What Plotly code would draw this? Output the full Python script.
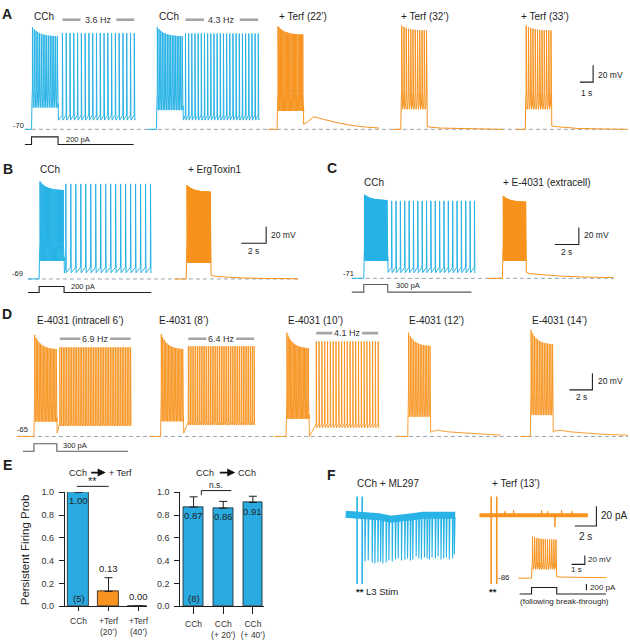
import numpy as np
import plotly.graph_objects as go

W, H = 630, 640
FONT = "Liberation Sans, Arial, Helvetica, sans-serif"

CYAN = "#28b3e6"
ORANGE = "#f7931e"
CYAN_BAR = "#29abe2"
ORANGE_BAR = "#f7931e"
DASH_GRAY = "#9aa3ad"
HZ_GRAY = "#a5a5a5"
INK = "#1e1e1e"
CMD_GRAY = "#5a5a5a"

# ======================= DATA =======================
# ---- Panel A : membrane potential (mV) vs time (s) ----
A_titles = ["CCh", "CCh", "+ Terf (22\u2019)", "+ Terf (32\u2019)", "+ Terf (33\u2019)"]
A_is_cch = [True, True, False, False, False]
A_onset_s = [2.38, 11.80, 20.90, 30.23, 39.62]
A_pre_s = [0.50, 0.68, 0.68, 0.60, 0.68]
A_step_s = 2.0
A_post_s = [5.80, 5.75, 5.70, 5.70, 5.70]
A_rest_mV = -70
A_step_spikes = [15, 16, 22, 12, 12]
A_step_peak_first = [52, 52, 53, 54, 54]
A_step_peak_last = [41, 41, 43, 48, 48]
A_step_trough = [-44, -47, -48, -46, -46]
A_pers_label = ["3.6 Hz", "4.3 Hz", None, None, None]
A_pers_spikes = [20, 24, 0, 0, 0]
A_pers_window = [(0.33, 5.75), (0.19, 5.68), None, None, None]
A_pers_peak = [45, 44.5, None, None, None]
A_pers_trough = [-59, -59, None, None, None]
A_pers_thresh = [-53, -53, None, None, None]
A_post_drop = [-59, -59, None, None, None]
A_after = [None, None,
           [(0, -64), (0.3, -61), (0.75, -55), (1.5, -58), (2.5, -62), (3.5, -65), (4.5, -67), (5.7, -68.5)],
           [(0, -67), (1.0, -68.5), (3.0, -69.5), (5.7, -70)],
           [(0, -66), (0.5, -67), (2.0, -69), (5.7, -70)]]
A_hz_mV = 61
A_cmd_pA = 200

# ---- Panel B ----
B_titles = ["CCh", "+ ErgToxin1"]
B_is_cch = [True, False]
B_onset_s = [3.14, 14.94]
B_pre_s = [0.90, 0.93]
B_step_s = 2.0
B_post_s = [7.0, 7.0]
B_rest_mV = -69
B_step_spikes = [26, 60]
B_step_peak_first = [47.5, 43]
B_step_peak_last = [37, 35]
B_step_trough = [-47.5, -49.8]
B_pers_spikes = [18, 0]
B_pers_window = [(0.14, 6.94), None]
B_pers_peak = [44.6, None]
B_pers_trough = [-61.6, None]
B_pers_thresh = [-55, None]
B_post_drop = [-62, None]
B_after = [None, [(0, -65), (0.5, -66), (2, -67.5), (4, -68.3), (7, -68.8)]]
B_cmd_pA = 200

# ---- Panel C ----
C_titles = ["CCh", "+ E-4031 (extracell)"]
C_is_cch = [True, False]
C_onset_s = [4.58, 16.17]
C_pre_s = [1.00, 1.17]
C_step_s = 2.0
C_post_s = [7.30, 7.25]
C_rest_mV = -71
C_step_spikes = [50, 50]
C_step_peak_first = [27.3, 25.8]
C_step_peak_last = [20.8, 18.8]
C_step_trough = [-50.5, -50.5]
C_pers_spikes = [20, 0]
C_pers_window = [(0.33, 7.25), None]
C_pers_peak = [20, None]
C_pers_trough = [-64.4, None]
C_pers_thresh = [-58, None]
C_post_drop = [-64, None]
C_after = [None, [(0, -64), (0.3, -65.5), (0.8, -66), (1.5, -67.5), (3, -68.5), (5, -69.5), (7.25, -70)]]
C_cmd_pA = 300

# ---- Panel D ----
D_titles = ["E-4031 (intracell 6\u2019)", "E-4031 (8\u2019)", "E-4031 (10\u2019)", "E-4031 (12\u2019)", "E-4031 (14\u2019)"]
D_onset_s = [2.96, 14.00, 24.96, 35.57, 46.26]
D_pre_s = [1.48, 0.96, 1.04, 0.96, 0.87]
D_step_s = 2.0
D_post_s = [6.45, 6.2, 6.1, 6.1, 6.5]
D_rest_mV = -65
D_step_spikes = [16, 16, 18, 14, 14]
D_step_peak_first = [56.5, 57.3, 59, 58.9, 62.4]
D_step_peak_last = [39, 39, 40, 42.8, 44.8]
D_step_trough = [-47.4, -47, -44, -41.5, -39.5]
D_pers_label = ["6.9 Hz", "6.4 Hz", "4.1 Hz", None, None]
D_pers_spikes = [43, 37, 23, 0, 0]
D_pers_window = [(0.26, 6.43), (0.43, 6.17), (0.63, 6.03), None, None]
D_pers_peak = [41.6, 42.8, 48.6, None, None]
D_pers_trough = [-52.5, -51.4, -54.6, None, None]
D_pers_thresh = [-48.5, -47.5, -50, None, None]
D_post_drop = [-61, -61, -65, None, None]
D_after = [None, None, None,
           [(0, -60), (0.15, -59), (0.6, -57.5), (1.5, -59.5), (3, -61), (4.5, -62.5), (6.1, -63.5)],
           [(0, -60), (0.15, -58.5), (0.6, -57.5), (1.5, -59.5), (3, -61), (4.5, -62.5), (6.5, -63.5)]]
D_hz_mV = [51.8, 51.8, 58.5]
D_cmd_pA = 300

# ---- Panel E : persistent firing probability ----
E_left_cats = ["CCh", "+Terf<br>(20\u2019)", "+Terf<br>(40\u2019)"]
E_left_vals = [1.00, 0.13, 0.00]
E_left_err = [None, 0.12, None]
E_left_n = "(5)"
E_right_cats = ["CCh", "CCh<br>(+ 20\u2019)", "CCh<br>(+ 40\u2019)"]
E_right_vals = [0.87, 0.86, 0.91]
E_right_err = [0.09, 0.06, 0.055]
E_right_n = "(8)"
E_yticks = [0.0, 0.2, 0.4, 0.6, 0.8, 1.0]

# ---- Panel F : holding current (pA) vs time (s) ----
F_cyan_span_s = (3.40, 13.58)
F_cyan_base = [(3.40, 1), (5.8, 0), (6.5, -1.5), (7.6, -4), (8.7, -3.5), (9.6, -1.5), (10.6, 0), (13.58, 0)]
F_cyan_stim_s = [4.47, 4.94]
F_orange_stim_s = [16.92, 17.44]
F_stim_range_pA = (-70, 19)
F_cyan_event_s = [5.19, 5.49, 5.86, 6.11, 6.39, 6.64, 6.85, 7.16, 7.41, 7.72,
                  8.02, 8.27, 8.58, 8.89, 9.14, 9.41, 9.63, 9.94, 10.19, 10.43,
                  10.71, 10.96, 11.17, 11.42, 11.73, 11.98, 12.25, 12.50, 12.75, 13.02,
                  13.33, 13.49]
F_cyan_event_pA = [-47, -46, -48, -49, -48, -47, -49, -48, -46, -47,
                   -45, -44, -46, -45, -44, -46, -45, -42, -44, -45,
                   -43, -44, -45, -43, -44, -42, -45, -44, -43, -45,
                   -44, -40]
F_orange_span_s = (15.83, 25.90)
F_orange_blip_s = [18.2, 19.0, 21.6, 22.16, 22.84, 23.46, 24.4]
F_orange_blip_pA = [4, 5, 5, 4, -12, 5, 4]
# inset (current clamp after break-through)
Fi_onset_s = 2.5
Fi_pre_s = 1.0
Fi_step_s = 1.9
Fi_post_s = 3.75
Fi_rest_mV = -86
Fi_step_spikes = 12
Fi_peak_first, Fi_peak_last = 8, 1
Fi_trough = -66
Fi_after = [(0, -82.5), (0.4, -83.5), (1.5, -84.3), (3.75, -84.8)]
Fi_cmd_pA = 200

# ======================= HELPERS =======================
def make_axes(p0, p1, pps, ptop, pbot, ppu, pref, vref):
    return dict(p0=p0, p1=p1, pps=pps, ptop=ptop, pbot=pbot, ppu=ppu, pref=pref, vref=vref)

def xlay(a, anchor):
    return dict(domain=[a["p0"] / W, a["p1"] / W], range=[0, (a["p1"] - a["p0"]) / a["pps"]],
                visible=False, fixedrange=True, anchor=anchor)

def ylay(a, anchor):
    return dict(domain=[1 - a["pbot"] / H, 1 - a["ptop"] / H],
                range=[a["vref"] - (a["pbot"] - a["pref"]) / a["ppu"], a["vref"] + (a["pref"] - a["ptop"]) / a["ppu"]],
                visible=False, fixedrange=True, anchor=anchor)

def to_t(a, px):
    return (px - a["p0"]) / a["pps"]

def to_v(a, py):
    return a["vref"] + (a["pref"] - py) / a["ppu"]

def sweep(onset, pre, step, post, rest, n_step, pk0, pk1, trough,
          n_pers=0, win=None, ppk=None, ptr=None, pthr=None, drop=None, after=None, knee=0.2):
    thr = trough + 5
    t = [onset - pre, onset, onset + 0.03]
    v = [rest, rest, thr]
    times = np.linspace(onset + 0.07, onset + step - 0.06, n_step)
    for k, ts in enumerate(times):
        f = k / max(n_step - 1, 1)
        pk = pk1 + (pk0 - pk1) * np.exp(-3.5 * f)
        kv = thr + knee * (pk - thr)
        t += [ts - 0.045, ts - 0.006, ts, ts + 0.008, ts + 0.06]
        v += [thr, kv, pk, kv, trough]
    end = onset + step
    t.append(end); v.append(thr)
    if n_pers:
        t.append(end + 0.03); v.append(drop)
        for ts in np.linspace(end + win[0], end + win[1], n_pers):
            t += [ts - 0.01, ts, ts + 0.035]
            v += [pthr, ppk, ptr]
        t.append(end + post); v.append(ptr + 1)
    else:
        for dt, vv in after:
            t.append(end + dt); v.append(vv)
    return t, v

traces = []
annotations = []
shapes = []

def line(t, v, xa, ya, color, width=1.0, dash=None):
    traces.append(go.Scatter(x=t, y=v, xaxis=xa, yaxis=ya, mode="lines",
                             line=dict(color=color, width=width, dash=dash),
                             hoverinfo="skip", showlegend=False, cliponaxis=True))

def txt(px, py, s, size=10, xanchor="left", color=INK, angle=0):
    annotations.append(dict(x=px / W, y=1 - py / H, xref="paper", yref="paper", text=s, showarrow=False,
                            xanchor=xanchor, yanchor="middle", textangle=angle,
                            font=dict(family=FONT, size=size, color=color)))

def dtxt(x, y, xa, ya, s, size=9, color="#333", yanchor="middle", yshift=0):
    annotations.append(dict(x=x, y=y, xref=xa, yref=ya, text=s, showarrow=False, xanchor="center",
                            yanchor=yanchor, yshift=yshift, font=dict(family=FONT, size=size, color=color)))

def pline(x0, y0, x1, y1, color=INK, width=1):
    shapes.append(dict(type="line", xref="paper", yref="paper", x0=x0 / W, y0=1 - y0 / H,
                       x1=x1 / W, y1=1 - y1 / H, line=dict(color=color, width=width)))

def scalebar(a, xa, ya, cx, cy, dt, dv, color=INK):
    t, v = to_t(a, cx), to_v(a, cy)
    line([t - dt, t, t], [v, v, v + dv], xa, ya, color, 1.1)

def cmd(onset, pre, step, post, amp, xa, ya, color):
    line([onset - pre, onset, onset, onset + step, onset + step, onset + step + post],
         [0, 0, amp, amp, 0, 0], xa, ya, color, 1.1)

def hz_bar(end, win, label, v, gap, xa, ya):
    t0, t1 = end + win[0], end + win[1]
    mid = (t0 + t1) / 2
    line([t0, mid - gap, None, mid + gap, t1], [v, v, None, v, v], xa, ya, HZ_GRAY, 2.6)
    dtxt(mid, v, xa, ya, label, size=9, color="#333")

# ======================= AXES =======================
AX_A = make_axes(0, 630, 13.3, 0, 132, 0.85, 126.3, -70)
AX_Acmd = make_axes(0, 630, 13.3, 128, 147, 7.7 / 200, 141.7, 0)
AX_B = make_axes(0, 310, 12.5, 150, 282, 0.85, 278.3, -69)
AX_Bcmd = make_axes(0, 310, 12.5, 280, 298, 6.0 / 200, 292, 0)
AX_C = make_axes(310, 630, 12.0, 150, 282, 0.865, 277.7, -71)
AX_Ccmd = make_axes(310, 630, 12.0, 278, 297, 7.7 / 300, 291.7, 0)
AX_D = make_axes(0, 630, 11.5, 300, 443, 0.85, 438.3, -65)
AX_Dcmd = make_axes(0, 630, 11.5, 440, 458, 7.6 / 300, 453.3, 0)
AX_F = make_axes(310, 630, 10.8, 490, 600, 1.0, 518.3, 0)
AX_Fi = make_axes(500, 630, 13.3, 530, 588, 0.45, 582.3, -86)
AX_Ficmd = make_axes(500, 630, 13.3, 586, 602, 6.6 / 200, 598.3, 0)

# ======================= PANEL A =======================
line([to_t(AX_A, 25), to_t(AX_A, 630)], [A_rest_mV] * 2, "x", "y", DASH_GRAY, 1, "4px,3px")
for i in range(5):
    t, v = sweep(A_onset_s[i], A_pre_s[i], A_step_s, A_post_s[i], A_rest_mV, A_step_spikes[i],
                 A_step_peak_first[i], A_step_peak_last[i], A_step_trough[i], A_pers_spikes[i],
                 A_pers_window[i], A_pers_peak[i], A_pers_trough[i], A_pers_thresh[i],
                 A_post_drop[i], A_after[i], knee=0.18)
    line(t, v, "x", "y", CYAN if A_is_cch[i] else ORANGE, 1.0)
    if A_pers_label[i]:
        hz_bar(A_onset_s[i] + A_step_s, A_pers_window[i], A_pers_label[i], A_hz_mV, 1.35, "x", "y")
cmd(A_onset_s[0], A_pre_s[0], A_step_s, A_post_s[0] - 0.1, A_cmd_pA, "x", "y2", INK)
scalebar(AX_A, "x", "y", 595, 78.3, 1, 20)
for px, s in zip([32, 157, 278, 400, 521], A_titles):
    txt(px, 12, s, 10)
txt(26, 122, "-70", 7.5, "right")
txt(64, 137, "200 pA", 7.5)
txt(598, 71, "20 mV", 8.5)
txt(588, 89, "1 s", 8.5, "center")
txt(0, 9, "<b>A</b>", 14)

# ======================= PANEL B =======================
line([to_t(AX_B, 28), to_t(AX_B, 300)], [B_rest_mV] * 2, "x3", "y3", DASH_GRAY, 1, "4px,3px")
for i in range(2):
    t, v = sweep(B_onset_s[i], B_pre_s[i], B_step_s, B_post_s[i], B_rest_mV, B_step_spikes[i],
                 B_step_peak_first[i], B_step_peak_last[i], B_step_trough[i], B_pers_spikes[i],
                 B_pers_window[i], B_pers_peak[i], B_pers_trough[i], B_pers_thresh[i],
                 B_post_drop[i], B_after[i])
    line(t, v, "x3", "y3", CYAN if B_is_cch[i] else ORANGE, 1.0)
cmd(B_onset_s[0], B_pre_s[0], B_step_s, B_post_s[0], B_cmd_pA, "x3", "y4", INK)
scalebar(AX_B, "x3", "y3", 267, 242, 2, 20)
txt(38, 167, B_titles[0], 10)
txt(187, 167, B_titles[1], 10)
txt(25, 273, "-69", 7.5, "right")
txt(69, 286, "200 pA", 7.5)
txt(270, 234, "20 mV", 8.5)
txt(254, 250, "2 s", 8.5, "center")
txt(1, 167, "<b>B</b>", 14)

# ======================= PANEL C =======================
line([to_t(AX_C, 353), to_t(AX_C, 616)], [C_rest_mV] * 2, "x5", "y5", DASH_GRAY, 1, "4px,3px")
for i in range(2):
    t, v = sweep(C_onset_s[i], C_pre_s[i], C_step_s, C_post_s[i], C_rest_mV, C_step_spikes[i],
                 C_step_peak_first[i], C_step_peak_last[i], C_step_trough[i], C_pers_spikes[i],
                 C_pers_window[i], C_pers_peak[i], C_pers_trough[i], C_pers_thresh[i],
                 C_post_drop[i], C_after[i])
    line(t, v, "x5", "y5", CYAN if C_is_cch[i] else ORANGE, 1.0)
cmd(C_onset_s[0], C_pre_s[0], C_step_s, C_post_s[0] - 0.3, C_cmd_pA, "x5", "y6", CMD_GRAY)
scalebar(AX_C, "x5", "y5", 580.7, 243.3, 2, 20)
txt(363, 180, C_titles[0], 10)
txt(503, 180, C_titles[1], 10)
txt(357, 273, "-71", 7.5, "right")
txt(395, 285, "300 pA", 7.5)
txt(584, 234, "20 mV", 8.5)
txt(568, 251, "2 s", 8.5, "center")
txt(326, 166, "<b>C</b>", 14)

# ======================= PANEL D =======================
line([to_t(AX_D, 17), to_t(AX_D, 630)], [D_rest_mV] * 2, "x7", "y7", DASH_GRAY, 1, "4px,3px")
for i in range(5):
    t, v = sweep(D_onset_s[i], D_pre_s[i], D_step_s, D_post_s[i], D_rest_mV, D_step_spikes[i],
                 D_step_peak_first[i], D_step_peak_last[i], D_step_trough[i], D_pers_spikes[i],
                 D_pers_window[i], D_pers_peak[i], D_pers_trough[i], D_pers_thresh[i],
                 D_post_drop[i], D_after[i], knee=0.25)
    line(t, v, "x7", "y7", ORANGE, 0.9)
    if D_pers_label[i]:
        hz_bar(D_onset_s[i] + D_step_s, D_pers_window[i], D_pers_label[i], D_hz_mV[i], 1.3, "x7", "y7")
cmd(D_onset_s[0], 0.96, D_step_s, 6.2, D_cmd_pA, "x7", "y8", CMD_GRAY)
scalebar(AX_D, "x7", "y7", 594.3, 391, 2, 20)
for px, s in zip([35, 158, 287, 408, 532], D_titles):
    txt(px, 320, s, 10)
txt(30, 431, "-65", 7.5, "right")
txt(61, 447, "300 pA", 7.5)
txt(598, 382, "20 mV", 8.5)
txt(583, 398, "2 s", 8.5, "center")
txt(0, 314, "<b>D</b>", 14)

# ======================= PANEL E =======================
bar_line = dict(color=INK, width=0.8)
traces.append(go.Bar(x=[0, 1, 2], y=E_left_vals, width=0.7, xaxis="x9", yaxis="y9",
                     marker=dict(color=[CYAN_BAR, ORANGE_BAR, ORANGE_BAR], line=bar_line),
                     error_y=dict(type="data", symmetric=False, array=E_left_err, arrayminus=[0, 0, 0],
                                  color=INK, thickness=1, width=4),
                     cliponaxis=False, hoverinfo="skip", showlegend=False))
traces.append(go.Bar(x=[0, 1, 2], y=E_right_vals, width=0.67, xaxis="x10", yaxis="y10",
                     marker=dict(color=[CYAN_BAR] * 3, line=bar_line),
                     error_y=dict(type="data", symmetric=False, array=E_right_err, arrayminus=[0, 0, 0],
                                  color=INK, thickness=1, width=4),
                     cliponaxis=False, hoverinfo="skip", showlegend=False))

def e_xaxis(p0, p1, rng, anchor, cats, ticklen, standoff):
    return dict(domain=[p0 / W, p1 / W], range=rng, anchor=anchor, showline=True, linecolor=INK,
                linewidth=1, ticks="outside", ticklen=ticklen, tickwidth=1, tickcolor=INK,
                tickvals=[0, 1, 2], ticktext=cats, ticklabelstandoff=standoff,
                tickfont=dict(family=FONT, size=8.5, color="#333"),
                showgrid=False, zeroline=False, fixedrange=True)

def e_yaxis(anchor):
    return dict(domain=[1 - 610.7 / H, 1 - 495 / H], range=[0, 1.0], anchor=anchor, showline=True,
                linecolor=INK, linewidth=1, ticks="outside", ticklen=5, tickwidth=1, tickcolor=INK,
                tickvals=E_yticks, ticktext=[f"{v:.1f}" for v in E_yticks], ticklabelstandoff=3,
                tickfont=dict(family=FONT, size=9, color="#333"), showgrid=False, zeroline=False,
                fixedrange=True)

# value labels
dtxt(0, E_left_vals[0], "x9", "y9", f"{E_left_vals[0]:.2f}", 9.5, "#222", "top", -1)
dtxt(1, E_left_vals[1] + E_left_err[1], "x9", "y9", f"{E_left_vals[1]:.2f}", 9.5, "#222", "bottom", 2)
dtxt(2, E_left_vals[2], "x9", "y9", f"{E_left_vals[2]:.2f}", 9.5, "#222", "bottom", 2)
dtxt(0, 0, "x9", "y9", E_left_n, 9.5, "#222", "bottom", 0)
for k in range(3):
    dtxt(k, E_right_vals[k], "x10", "y10", f"{E_right_vals[k]:.2f}", 9.5, "#222", "top", -1)
dtxt(0, 0, "x10", "y10", E_right_n, 9.5, "#222", "bottom", 0)

txt(25, 553, "Persistent Firing Prob", 11.5, "center", INK, -90)
# headers with arrows
txt(89, 475, "CCh", 9, "right")
txt(107, 475, "+ Terf", 9)
txt(217, 475, "CCh", 9, "right")
txt(237, 475, "CCh", 9)
for tip, tail in [(106, 90), (236, 219)]:
    annotations.append(dict(x=tip / W, y=1 - 475 / H, xref="paper", yref="paper", ax=tail - tip, ay=0,
                            axref="pixel", ayref="pixel", showarrow=True, arrowhead=2, arrowsize=1,
                            arrowwidth=1.6, arrowcolor="#111", text=""))
# significance brackets
pline(77, 489, 109, 489)
txt(93, 484, "**", 11, "center")
pline(202, 493.3, 232, 493.3)
pline(202, 493.3, 202, 498)
txt(217, 488, "n.s.", 8.5, "center")
txt(1, 467, "<b>E</b>", 14)

# ======================= PANEL F =======================
bt, bv = zip(*F_cyan_base)
line(list(bt), list(bv), "x11", "y11", CYAN, 7)
ev_t, ev_v = [], []
for te, amp in zip(F_cyan_event_s, F_cyan_event_pA):
    ev_t += [te - 0.01, te + 0.01, te + 0.07, None]
    ev_v += [-2, amp, -2, None]
line(ev_t, ev_v, "x11", "y11", CYAN, 1.1)
line(list(F_orange_span_s), [0, 0], "x11", "y11", ORANGE, 4)
bl_t, bl_v = [], []
for tb, amp in zip(F_orange_blip_s, F_orange_blip_pA):
    bl_t += [tb - 0.02, tb, tb + 0.04, None]
    bl_v += [0, amp, 0, None]
line(bl_t, bl_v, "x11", "y11", ORANGE, 1.0)
st_t, st_v = [], []
for ts in F_cyan_stim_s:
    st_t += [ts, ts, None]; st_v += [F_stim_range_pA[1], F_stim_range_pA[0], None]
line(st_t, st_v, "x11", "y11", CYAN, 1.6)
st_t, st_v = [], []
for ts in F_orange_stim_s:
    st_t += [ts, ts, None]; st_v += [F_stim_range_pA[1], F_stim_range_pA[0], None]
line(st_t, st_v, "x11", "y11", ORANGE, 1.6)
scalebar(AX_F, "x11", "y11", 598.3, 529.3, 2, 20)
txt(356, 486, "CCh + ML297", 10)
txt(492, 486, "+ Terf (13\u2019)", 10)
txt(355, 596, "<b>**</b> L3 Stim", 9.5)
txt(489, 596, "<b>**</b>", 9.5)
txt(601, 519, "20 pA", 10)
txt(587.5, 540, "2 s", 10, "center")
txt(326, 477, "<b>F</b>", 14)

# inset
t, v = sweep(Fi_onset_s, Fi_pre_s, Fi_step_s, Fi_post_s, Fi_rest_mV, Fi_step_spikes,
             Fi_peak_first, Fi_peak_last, Fi_trough, after=Fi_after, knee=0.2)
line(t, v, "x12", "y12", ORANGE, 1.0)
cmd(Fi_onset_s, Fi_pre_s - 0.1, Fi_step_s, Fi_post_s - 0.05, Fi_cmd_pA, "x12", "y13", INK)
line([to_t(AX_Ficmd, 588.3)] * 2, [110, 110 + Fi_cmd_pA], "x12", "y13", INK, 1.1)
scalebar(AX_Fi, "x12", "y12", 586.7, 568.3, 1, 20)
txt(514, 582, "-86", 8, "right")
txt(588, 563, "20 mV", 8)
txt(578, 573, "1 s", 8, "center")
txt(590, 592, "200 pA", 8)
txt(566.7, 606, "(following break-through)", 8, "center")

# ======================= LAYOUT =======================
layout = dict(
    width=W, height=H, autosize=False,
    margin=dict(l=0, r=0, t=0, b=0, pad=0),
    paper_bgcolor="white", plot_bgcolor="rgba(0,0,0,0)",
    font=dict(family=FONT, size=10, color=INK),
    showlegend=False, hovermode=False, bargap=0,
    annotations=annotations, shapes=shapes,
    xaxis=xlay(AX_A, "y"), yaxis=ylay(AX_A, "x"), yaxis2=ylay(AX_Acmd, "x"),
    xaxis3=xlay(AX_B, "y3"), yaxis3=ylay(AX_B, "x3"), yaxis4=ylay(AX_Bcmd, "x3"),
    xaxis5=xlay(AX_C, "y5"), yaxis5=ylay(AX_C, "x5"), yaxis6=ylay(AX_Ccmd, "x5"),
    xaxis7=xlay(AX_D, "y7"), yaxis7=ylay(AX_D, "x7"), yaxis8=ylay(AX_Dcmd, "x7"),
    xaxis9=e_xaxis(65, 147, [-0.46, 2.27], "y9", E_left_cats, 4, 3), yaxis9=e_yaxis("x9"),
    xaxis10=e_xaxis(181, 265, [-0.444, 2.38], "y10", E_right_cats, 7, 3), yaxis10=e_yaxis("x10"),
    xaxis11=xlay(AX_F, "y11"), yaxis11=ylay(AX_F, "x11"),
    xaxis12=xlay(AX_Fi, "y12"), yaxis12=ylay(AX_Fi, "x12"), yaxis13=ylay(AX_Ficmd, "x12"),
)

fig = go.Figure(data=traces, layout=layout)
fig.write_html("out.html", config={"displayModeBar": False},
               post_script="document.body.style.margin='0';document.body.style.padding='0';")
